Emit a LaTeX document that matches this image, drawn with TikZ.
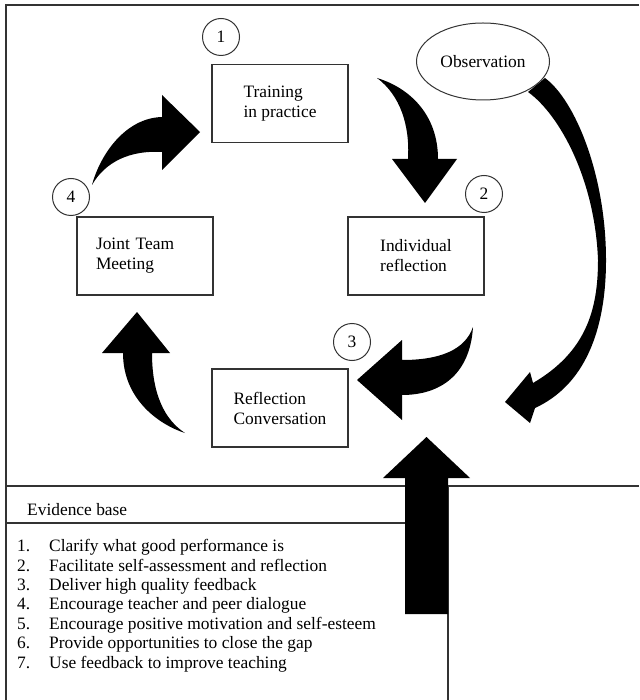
\documentclass[tikz,border=0pt]{standalone}
\usepackage{fontspec}
\setmainfont{Liberation Serif}
\usetikzlibrary{shapes.geometric}
\begin{document}
\begin{tikzpicture}[x=1pt,y=-1pt,
  frame/.style={draw=black!80, line width=1.3pt},
  txt/.style={font=\fontsize{17.4}{20}\selectfont},
  box/.style={txt, draw=black!80, line width=1.2pt, fill=white, minimum width=136pt, minimum height=78pt, inner sep=0pt, align=left},
  num/.style={txt, draw=black!80, line width=1pt, fill=white, circle, minimum size=37pt, inner sep=0pt},
  blk/.style={fill=black, draw=none},
  item/.style={txt, anchor=base west, inner sep=0pt}
]
\useasboundingbox (0,0) rectangle (639,700);
\fill[white] (0,0) rectangle (639,700);

% frame lines
\draw[frame] (639,5) -- (6,5) -- (6,700);
\draw[frame] (6,486) -- (639,486);
\draw[frame] (6,523) -- (448,523);
\draw[frame] (448,486) -- (448,700);

% block arrows
\fill[blk] (92,185) .. controls (100,155) and (125,118) .. (162,117) -- (162,95) -- (200,132) -- (162,170) -- (162,152) .. controls (130,150) and (105,162) .. (92,185) -- cycle;
\fill[blk] (377,78) .. controls (410,88) and (438,115) .. (438,159) -- (457,159) -- (425,203) -- (392,159) -- (408,159) .. controls (410,125) and (400,95) .. (377,78) -- cycle;
\fill[blk] (473,327) .. controls (465,350) and (440,360) .. (402,360) -- (402,340) -- (357,380) -- (402,420) -- (402,395) .. controls (440,395) and (470,375) .. (473,327) -- cycle;
\fill[blk] (185,433) .. controls (160,425) and (123,400) .. (123,353) -- (102,353) -- (137,312) -- (170,353) -- (152,353) .. controls (152,395) and (165,420) .. (185,433) -- cycle;
\fill[blk] (528,92) .. controls (560,115) and (595,180) .. (598,260) .. controls (598,310) and (586,352) .. (533,383) -- (530,372) -- (505,402) -- (530,423) -- (535,408) .. controls (585,385) and (606,330) .. (606,260) .. controls (606,175) and (575,100) .. (545,78) -- cycle;
\fill[blk] (405,614) -- (405,478) -- (383,478) -- (426.5,437) -- (470,478) -- (448,478) -- (448,614) -- cycle;

% nodes
\node[box] (train) at (280,103.5) {Training\\in practice};
\node[box] (indiv) at (416,256) {Individual\\reflection};
\node[box, text width=98pt] (joint) at (145,256) {Joint Team\\Meeting};
\node[box] (refl) at (280,408) {Reflection\\Conversation};
\node[txt, draw=black!80, line width=1pt, fill=white, ellipse, minimum width=133pt, minimum height=77pt, inner sep=0pt] (obs) at (483,61.5) {Observation};

\node[num] (c1) at (221,37) {1};
\node[num] (c2) at (484,194) {2};
\node[num] (c3) at (352,342) {3};
\node[num] (c4) at (71,197) {4};

% evidence base
\node[item] (evh) at (27,515) {Evidence base};
\foreach \i/\t in {1/Clarify what good performance is,
                   2/Facilitate self-assessment and reflection,
                   3/Deliver high quality feedback,
                   4/Encourage teacher and peer dialogue,
                   5/Encourage positive motivation and self-esteem,
                   6/Provide opportunities to close the gap,
                   7/Use feedback to improve teaching} {
  \node[item] (n\i) at (17,{551.7+19.4*(\i-1)}) {\i.};
  \node[item] (t\i) at (49,{551.7+19.4*(\i-1)}) {\t};
}
\end{tikzpicture}
\end{document}
